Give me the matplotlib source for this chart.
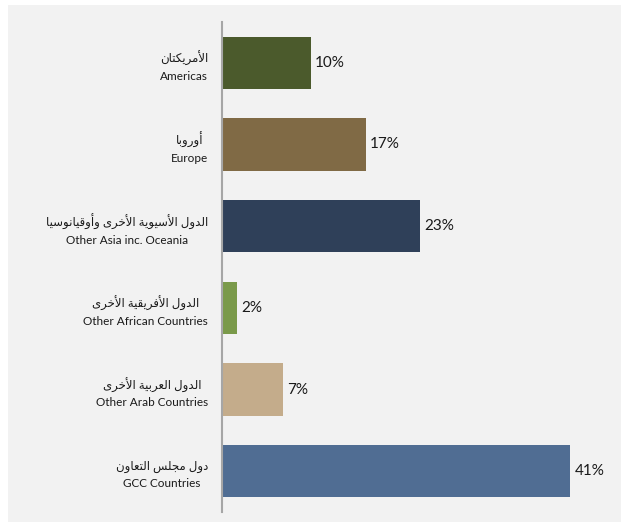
import matplotlib
matplotlib.use("Agg")
import matplotlib.pyplot as plt
from matplotlib.patches import Rectangle

# ---------- DATA ----------
regions_ar = ["الأمريكتان", "أوروبا", "الدول الأسيوية الأخرى وأوقيانوسيا",
              "الدول الأفريقية الأخرى", "الدول العربية الأخرى", "دول مجلس التعاون"]
regions_en = ["Americas", "Europe", "Other Asia inc. Oceania",
              "Other African Countries", "Other Arab Countries", "GCC Countries"]
shares = [10.4, 16.9, 23.3, 1.8, 7.2, 40.9]
colors = ["#4B5A2C", "#806A45", "#2F4059", "#7A9A4A", "#C4AC8B", "#506D93"]

# ---------- ARABIC SHAPING (matplotlib has no RTL / joining) ----------
# forms: isolated, final, initial, medial (2 entries = joins on right only)
FORMS = {
    "ا": (0xFE8D, 0xFE8E), "أ": (0xFE83, 0xFE84), "ب": (0xFE8F, 0xFE90, 0xFE91, 0xFE92),
    "ة": (0xFE93, 0xFE94), "ت": (0xFE95, 0xFE96, 0xFE97, 0xFE98),
    "ج": (0xFE9D, 0xFE9E, 0xFE9F, 0xFEA0), "خ": (0xFEA5, 0xFEA6, 0xFEA7, 0xFEA8),
    "د": (0xFEA9, 0xFEAA), "ر": (0xFEAD, 0xFEAE), "س": (0xFEB1, 0xFEB2, 0xFEB3, 0xFEB4),
    "ع": (0xFEC9, 0xFECA, 0xFECB, 0xFECC), "ف": (0xFED1, 0xFED2, 0xFED3, 0xFED4),
    "ق": (0xFED5, 0xFED6, 0xFED7, 0xFED8), "ك": (0xFED9, 0xFEDA, 0xFEDB, 0xFEDC),
    "ل": (0xFEDD, 0xFEDE, 0xFEDF, 0xFEE0), "م": (0xFEE1, 0xFEE2, 0xFEE3, 0xFEE4),
    "ن": (0xFEE5, 0xFEE6, 0xFEE7, 0xFEE8), "و": (0xFEED, 0xFEEE),
    "ى": (0xFEEF, 0xFEF0), "ي": (0xFEF1, 0xFEF2, 0xFEF3, 0xFEF4),
    "لأ": (0xFEF7, 0xFEF8), "لا": (0xFEFB, 0xFEFC),
}


def shape(text):
    out_words = []
    for word in text.split(" "):
        units = []
        i = 0
        while i < len(word):
            if word[i] == "ل" and i + 1 < len(word) and word[i:i + 2] in FORMS:
                units.append(word[i:i + 2])
                i += 2
            else:
                units.append(word[i])
                i += 1
        res = []
        for k, u in enumerate(units):
            f = FORMS[u]
            prev_joins = k > 0 and len(FORMS[units[k - 1]]) == 4
            next_joins = len(f) == 4 and k + 1 < len(units)
            if prev_joins and next_joins:
                c = f[3]
            elif prev_joins:
                c = f[1]
            elif next_joins:
                c = f[2]
            else:
                c = f[0]
            res.append(chr(c))
        out_words.append("".join(res))
    return " ".join(out_words)[::-1]


labels = [shape(a) + "\n" + e for a, e in zip(regions_ar, regions_en)]

# ---------- PLOT ----------
fig = plt.figure(figsize=(6.22, 5.22), dpi=100)
bg = Rectangle((8 / 622, 0), 613 / 622, 517 / 522, transform=fig.transFigure,
               facecolor="#F2F2F2", edgecolor="none", zorder=-10)
fig.add_artist(bg)
ax = fig.add_axes([222 / 622, 10 / 522, 390 / 622, 490 / 522])
ax.set_facecolor("none")
ax.set_zorder(1)

y = list(range(len(shares)))
ax.barh(y, shares, height=0.64, color=colors)
ax.set_ylim(len(shares) - 0.5, -0.5)
ax.set_xlim(0, 45.8)

for yi, v in zip(y, shares):
    ax.text(v + 0.5, yi, f"{round(v)}%", va="center", ha="left", fontsize=11,
            family=["Lato", "DejaVu Sans"], color="#1A1A1A")

ax.set_yticks(y)
ax.set_yticklabels(labels, family=["Lato", "DejaVu Sans"], fontsize=8.5,
                   multialignment="center", linespacing=1.55, color="#1A1A1A")
ax.tick_params(axis="y", length=0, pad=10)
ax.set_xticks([])
for s in ["top", "right", "bottom"]:
    ax.spines[s].set_visible(False)
ax.spines["left"].set_color("#A6A6A6")
ax.spines["left"].set_linewidth(1.5)

fig.savefig("out.png", dpi=100)
